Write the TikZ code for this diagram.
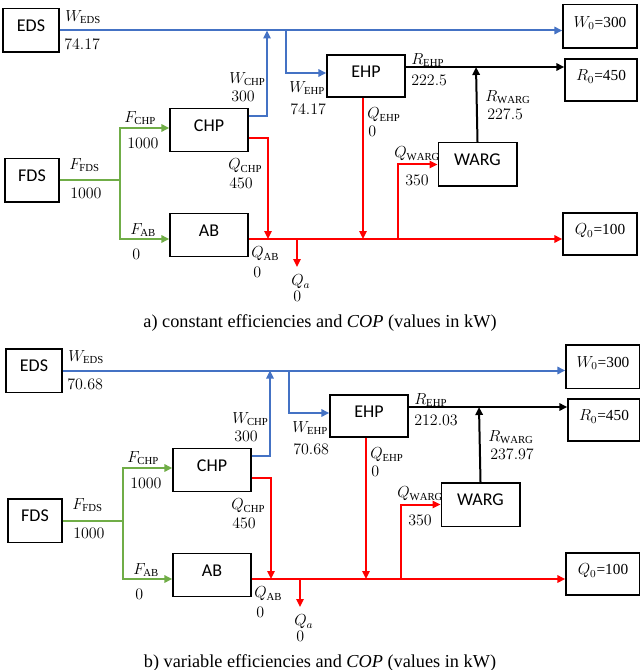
\documentclass[tikz,border=0pt]{standalone}
\usepackage{fontspec}
\setmainfont{Liberation Serif}
\newfontfamily\boxfont{Carlito}
\usepackage{tikz}
\usetikzlibrary{arrows.meta}

\definecolor{elblue}{RGB}{68,114,196}
\definecolor{fuelgreen}{RGB}{112,173,71}
\definecolor{heatred}{RGB}{255,0,0}

\tikzset{
  unit/.style={draw,line width=1pt,minimum width=58.5pt,minimum height=32.5pt,
    text depth=7pt,inner sep=0pt,font=\boxfont\fontsize{13.5}{16}\selectfont},
  sink/.style={unit,minimum width=55.5pt,font=\fontsize{11.5}{14}\selectfont},
  lbl/.style={anchor=west,inner sep=0pt,font=\fontsize{11.5}{13}\selectfont},
  eflow/.style={elblue,line width=1.5pt},
  fflow/.style={fuelgreen,line width=1.5pt},
  hflow/.style={heatred,line width=1.5pt},
  rflow/.style={black,line width=1.5pt},
  capt/.style={font=\fontsize{13.7}{16}\selectfont}
}

\begin{document}
\begin{tikzpicture}[line cap=butt,line join=miter,>={Triangle[length=6pt,width=5.5pt]},x=0.75pt,y=-0.75pt]
	\useasboundingbox (0,0) rectangle (639,670);
	\foreach \dx/\dy/\pl/\kind/\weds/\rehp/\rwarg in {0/0/a/constant/74.17/222.5/227.5,3/340/b/variable/70.68/212.03/237.97}{
	\begin{scope}[shift={(\dx,\dy)}]
	% units and sinks
	\node[unit,minimum width=42pt] (EDS) at (31,30.5) {EDS};
	\node[unit,minimum width=40.5pt] (FDS) at (32,180.5) {FDS};
	\node[unit] (CHP) at (209,130) {CHP};
	\node[unit] (AB) at (209,235) {AB};
	\node[unit,minimum height=31.5pt] (EHP) at (366,76) {EHP};
	\node[unit,minimum width=59pt] (WARG) at (477.5,164.5) {WARG};
	\node[sink] (Wo) at (600,26.5) {$W_0$=300};
	\node[sink,minimum width=54pt,minimum height=31.5pt] (Ro) at (601,80) {$R_0$=450};
	\node[sink,minimum height=31.5pt] (Qo) at (600,234) {$Q_0$=100};
	% junctions
	\coordinate (wc) at (267,116);
	\coordinate (we) at (286,73);
	\coordinate (rj) at (476,67);
	\coordinate (qc) at (268,138);
	\coordinate (bus) at (297,239);
	\coordinate (qa) at (297,267);
	\coordinate (qe) at (363,239);
	\coordinate (qw) at (398,164);
	\coordinate (fc) at (120,128);
	% electricity
	\draw[eflow,->] (EDS.east) -- (EDS.east -| Wo.west);
	\draw[eflow,->] (CHP.east |- wc) -| (wc |- EDS.east);
	\draw[eflow,->] (we |- EDS.east) |- (EHP.west |- we);
	% cooling
	\draw[rflow,->] (EHP.east |- rj) -- (Ro.west |- rj);
	\draw[rflow,->] (WARG.north) -- (rj);
	% heat
	\draw[hflow,->] (CHP.east |- qc) -| (qc |- bus);
	\draw[hflow,->] (AB.east |- bus) -- (Qo.west |- bus);
	\draw[hflow,->] (bus) -- (qa);
	\draw[hflow,->] (EHP.south -| qe) -- (qe);
	\draw[hflow,->] (qw |- bus) |- (WARG.west);
	% fuel
	\draw[fflow] (FDS.east) -- (FDS.east -| fc);
	\draw[fflow,->] (FDS.east -| fc) |- (CHP.west |- fc);
	\draw[fflow,->] (FDS.east -| fc) |- (AB.west |- bus);
	% flow labels
	\node[lbl] (nWeds) at (65,17) {$W_{\mathrm{EDS}}$};
	\node[lbl] (vWeds) at (64,44) {$\weds$};
	\node[lbl] (nWchp) at (229,79) {$W_{\mathrm{CHP}}$};
	\node[lbl] (vWchp) at (231,96) {$300$};
	\node[lbl] (nWehp) at (289,88) {$W_{\mathrm{EHP}}$};
	\node[lbl] (vWehp) at (290,109) {$\weds$};
	\node[lbl] (nFchp) at (124,118) {$F_{\mathrm{CHP}}$};
	\node[lbl] (vFchp) at (127,143) {$1000$};
	\node[lbl] (nFfds) at (69,165) {$F_{\mathrm{FDS}}$};
	\node[lbl] (vFfds) at (70,193) {$1000$};
	\node[lbl] (nFab) at (130,230) {$F_{\mathrm{AB}}$};
	\node[lbl] (vFab) at (132,254) {$0$};
	\node[lbl] (nQchp) at (228,166) {$Q_{\mathrm{CHP}}$};
	\node[lbl] (vQchp) at (229,183) {$450$};
	\node[lbl] (nQab) at (251,254) {$Q_{\mathrm{AB}}$};
	\node[lbl] (vQab) at (253,272) {$0$};
	\node[lbl] (nQa) at (291,282) {$Q_a$};
	\node[lbl] (vQa) at (293,296) {$0$};
	\node[lbl] (nQehp) at (367,115) {$Q_{\mathrm{EHP}}$};
	\node[lbl] (vQehp) at (368,131) {$0$};
	\node[lbl] (nRehp) at (411,60) {$R_{\mathrm{EHP}}$};
	\node[lbl] (vRehp) at (411,80) {$\rehp$};
	\node[lbl] (nRwarg) at (485,97) {$R_{\mathrm{WARG}}$};
	\node[lbl] (vRwarg) at (487,114) {$\rwarg$};
	\node[lbl] (nQwarg) at (394,154) {$Q_{\mathrm{WARG}}$};
	\node[lbl] (vQwarg) at (405,180) {$350$};
	\end{scope}
	\node[capt] (cap\pl) at (320,323+\dy) {\pl) \kind\ efficiencies and \textit{COP} (values in kW)};
	}
\end{tikzpicture}
\end{document}
